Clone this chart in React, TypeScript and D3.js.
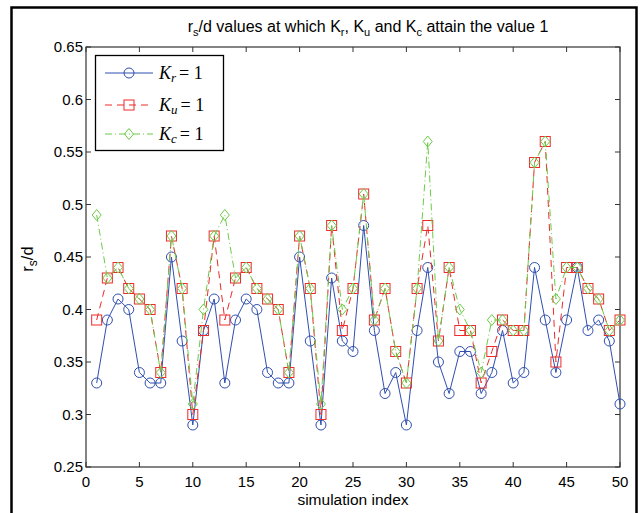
import React, { useEffect, useRef } from 'react';
import * as d3 from 'd3';

const kr = [0.33, 0.39, 0.41, 0.40, 0.34, 0.33, 0.33, 0.45, 0.37, 0.29,
  0.38, 0.41, 0.33, 0.39, 0.41, 0.40, 0.34, 0.33, 0.33, 0.45,
  0.37, 0.29, 0.43, 0.37, 0.36, 0.48, 0.38, 0.32, 0.34, 0.29,
  0.38, 0.44, 0.35, 0.32, 0.36, 0.36, 0.32, 0.34, 0.38, 0.33,
  0.34, 0.44, 0.39, 0.34, 0.39, 0.44, 0.38, 0.39, 0.37, 0.31];

const ku = [0.39, 0.43, 0.44, 0.42, 0.41, 0.40, 0.34, 0.47, 0.42, 0.30,
  0.38, 0.47, 0.39, 0.43, 0.44, 0.42, 0.41, 0.40, 0.34, 0.47,
  0.42, 0.30, 0.48, 0.38, 0.42, 0.51, 0.39, 0.42, 0.36, 0.33,
  0.42, 0.48, 0.37, 0.44, 0.38, 0.38, 0.33, 0.36, 0.39, 0.38,
  0.38, 0.54, 0.56, 0.35, 0.44, 0.44, 0.42, 0.41, 0.38, 0.39];

const kc = [0.49, 0.43, 0.44, 0.42, 0.41, 0.40, 0.34, 0.47, 0.42, 0.31,
  0.40, 0.47, 0.49, 0.43, 0.44, 0.42, 0.41, 0.40, 0.34, 0.47,
  0.42, 0.31, 0.48, 0.40, 0.42, 0.51, 0.39, 0.42, 0.36, 0.33,
  0.42, 0.56, 0.37, 0.44, 0.40, 0.38, 0.34, 0.39, 0.39, 0.38,
  0.38, 0.54, 0.56, 0.41, 0.44, 0.44, 0.42, 0.41, 0.38, 0.39];

const xTicks = [0, 5, 10, 15, 20, 25, 30, 35, 40, 45, 50];
const yTicks = [0.25, 0.3, 0.35, 0.4, 0.45, 0.5, 0.55, 0.6, 0.65];

const BLUE = '#2f4fb0';
const RED = '#ee2a2a';
const GREEN = '#6ccb47';

const series = [
  { name: 'r', values: kr, color: BLUE, dash: null, marker: 'circle' },
  { name: 'u', values: ku, color: RED, dash: '7,5', marker: 'square' },
  { name: 'c', values: kc, color: GREEN, dash: '7,3,1,3', marker: 'diamond' },
];

const drawMarker = (g: any, type: string, x: number, y: number, color: string) => {
  if (type === 'circle') {
    g.append('circle').attr('cx', x).attr('cy', y).attr('r', 5)
      .attr('fill', 'none').attr('stroke', color).attr('stroke-width', 1);
  } else if (type === 'square') {
    g.append('rect').attr('x', x - 5).attr('y', y - 5).attr('width', 10).attr('height', 10)
      .attr('fill', 'none').attr('stroke', color).attr('stroke-width', 1);
  } else {
    g.append('path')
      .attr('d', `M${x},${y - 5.5}L${x + 4.5},${y}L${x},${y + 5.5}L${x - 4.5},${y}Z`)
      .attr('fill', 'none').attr('stroke', color).attr('stroke-width', 1);
  }
};

const App = () => {
  const svgRef = useRef<SVGSVGElement>(null);

  useEffect(() => {
    const width = 642;
    const height = 513;
    const left = 86, right = 620, top = 47, bottom = 467;

    const svg = d3.select(svgRef.current);
    svg.selectAll('*').remove();
    svg.attr('width', width).attr('height', height);

    svg.append('rect').attr('width', width).attr('height', height).attr('fill', 'white');

    // outer figure frame (bottom edge is off-picture)
    svg.append('path')
      .attr('d', 'M11.5,520V7.5H636.5V520')
      .attr('fill', 'none').attr('stroke', 'black').attr('stroke-width', 2.5);

    const x = d3.scaleLinear().domain([0, 50]).range([left, right]);
    const y = d3.scaleLinear().domain([0.25, 0.65]).range([bottom, top]);

    const axisColor = '#333';
    const font = 'Liberation Sans, Arial, sans-serif';

    // box
    svg.append('rect')
      .attr('x', left).attr('y', top).attr('width', right - left).attr('height', bottom - top)
      .attr('fill', 'white').attr('stroke', axisColor).attr('stroke-width', 1.2);

    // inward ticks
    xTicks.forEach(t => {
      svg.append('line').attr('x1', x(t)).attr('x2', x(t)).attr('y1', bottom).attr('y2', bottom - 5)
        .attr('stroke', axisColor);
      svg.append('line').attr('x1', x(t)).attr('x2', x(t)).attr('y1', top).attr('y2', top + 5)
        .attr('stroke', axisColor);
      svg.append('text').attr('x', x(t)).attr('y', bottom + 20)
        .attr('text-anchor', 'middle').style('font-family', font).style('font-size', '15px')
        .text(d3.format('d')(t));
    });
    yTicks.forEach(t => {
      svg.append('line').attr('x1', left).attr('x2', left + 5).attr('y1', y(t)).attr('y2', y(t))
        .attr('stroke', axisColor);
      svg.append('line').attr('x1', right).attr('x2', right - 5).attr('y1', y(t)).attr('y2', y(t))
        .attr('stroke', axisColor);
      svg.append('text').attr('x', left - 3).attr('y', y(t) + 5)
        .attr('text-anchor', 'end').style('font-family', font).style('font-size', '15px')
        .text(d3.format('~g')(t));
    });

    // axis labels
    svg.append('text').attr('x', (left + right) / 2).attr('y', 505)
      .attr('text-anchor', 'middle').style('font-family', font).style('font-size', '15.5px')
      .text('simulation index');

    const yl = svg.append('text').attr('transform', `translate(33,${(top + bottom) / 2 + 2}) rotate(-90)`)
      .attr('text-anchor', 'middle').style('font-family', font).style('font-size', '16.5px');
    yl.append('tspan').text('r');
    yl.append('tspan').attr('dy', 4).style('font-size', '12px').text('s');
    yl.append('tspan').attr('dy', -4).text('/d');

    // title
    const title = svg.append('text').attr('x', 368).attr('y', 32)
      .attr('text-anchor', 'middle').style('font-family', font).style('font-size', '16px');
    const sub = (s: string) => title.append('tspan').attr('dy', 4).style('font-size', '11px').text(s);
    const norm = (s: string) => title.append('tspan').attr('dy', -4).text(s);
    title.append('tspan').text('r');
    sub('s');
    norm('/d values at which K');
    sub('r');
    norm(', K');
    sub('u');
    norm(' and K');
    sub('c');
    norm(' attain the value 1');

    // series
    const line = d3.line<number>().x((d, i) => x(i + 1)).y(d => y(d));
    series.forEach(s => {
      const g = svg.append('g');
      g.append('path').attr('d', line(s.values))
        .attr('fill', 'none').attr('stroke', s.color).attr('stroke-width', 1)
        .attr('stroke-dasharray', s.dash);
      s.values.forEach((v, i) => drawMarker(g, s.marker, x(i + 1), y(v), s.color));
    });

    // legend
    const lg = svg.append('g');
    lg.append('rect').attr('x', 95.5).attr('y', 55.5).attr('width', 128).attr('height', 95)
      .attr('fill', 'white').attr('stroke', 'black').attr('stroke-width', 1.3);
    const rows = [73, 105, 134];
    series.forEach((s, i) => {
      const yy = rows[i];
      lg.append('line').attr('x1', 105).attr('x2', 153).attr('y1', yy).attr('y2', yy)
        .attr('stroke', s.color).attr('stroke-width', 1).attr('stroke-dasharray', s.dash);
      drawMarker(lg, s.marker, 129, yy, s.color);
      const t = lg.append('text').attr('x', 159).attr('y', yy + 6)
        .style('font-family', 'Liberation Serif, serif').style('font-size', '18px');
      t.append('tspan').style('font-style', 'italic').text('K');
      t.append('tspan').attr('dy', 3).style('font-style', 'italic').style('font-size', '13px').text(s.name);
      t.append('tspan').attr('dy', -3).attr('dx', 3).text('= 1');
    });
  }, []);

  return <svg ref={svgRef} style={{ position: 'absolute', left: 0, top: 0 }}></svg>;
};

export default App;
